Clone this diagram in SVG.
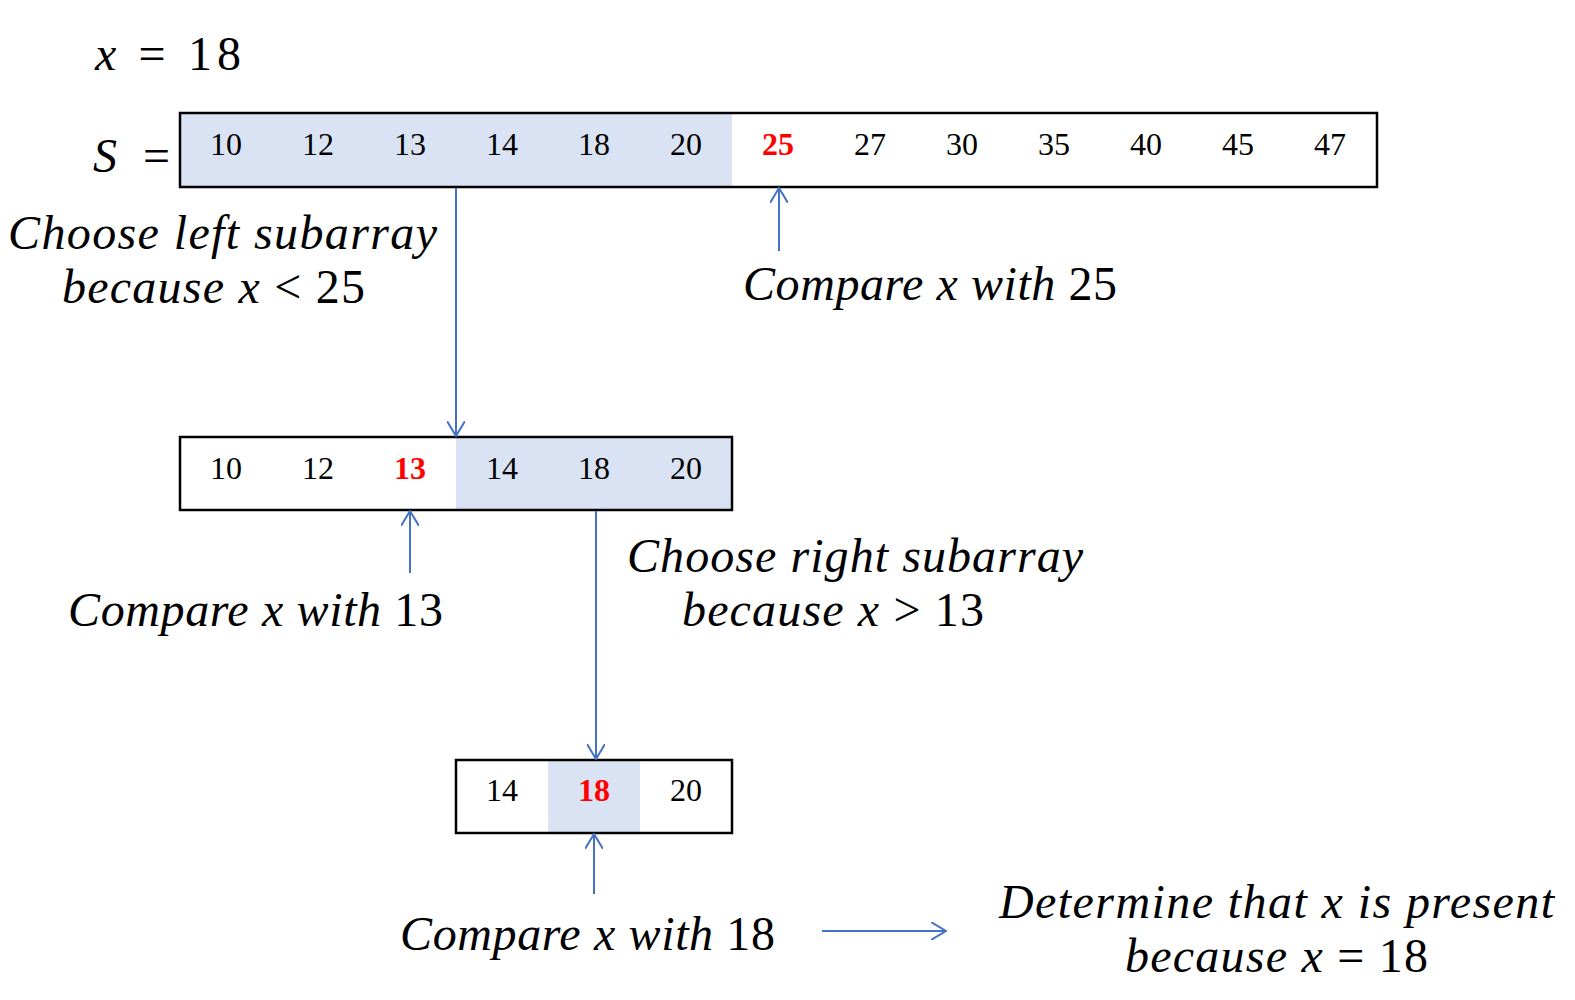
<svg xmlns="http://www.w3.org/2000/svg" width="1575" height="1000" viewBox="0 0 1575 1000">
<style>
.box{fill:none;stroke:#000;stroke-width:2.5}
.sh{fill:#DAE3F3}
.num{font-family:"Liberation Serif","Times New Roman",serif;font-size:32px;fill:#000;text-anchor:middle}
.red{fill:#FF0000;font-weight:bold}
.m{font-family:"Liberation Serif","Times New Roman",serif;font-size:48px;font-style:italic;fill:#000}
.u{font-style:normal}
.c{fill:none;stroke:#4472C4;stroke-width:2}
</style>
<defs>
<marker id="ah" viewBox="0 0 16 18" refX="15" refY="9" markerWidth="16" markerHeight="18" markerUnits="userSpaceOnUse" orient="auto">
<path d="M0,0 L15,9 L0,18" fill="none" stroke="#4472C4" stroke-width="2"/>
</marker>
</defs>
<rect width="1575" height="1000" fill="#fff"/>
<g id="label-x"><text class="m" x="95" y="70" textLength="146">x<tspan class="u"> = 18</tspan></text></g>
<g id="label-S"><text class="m" x="93" y="172" textLength="77">S<tspan class="u"> =</tspan></text></g>
<g id="array-top">
<rect class="sh" x="180" y="113" width="552" height="74"/>
<rect class="box" x="180" y="113" width="1197" height="74"/>
<text class="num" x="226" y="155">10</text>
<text class="num" x="318" y="155">12</text>
<text class="num" x="410" y="155">13</text>
<text class="num" x="502" y="155">14</text>
<text class="num" x="594" y="155">18</text>
<text class="num" x="686" y="155">20</text>
<text class="num red" x="778" y="155">25</text>
<text class="num" x="870" y="155">27</text>
<text class="num" x="962" y="155">30</text>
<text class="num" x="1054" y="155">35</text>
<text class="num" x="1146" y="155">40</text>
<text class="num" x="1238" y="155">45</text>
<text class="num" x="1330" y="155">47</text>
</g>
<g id="array-middle">
<rect class="sh" x="456" y="437" width="276" height="73"/>
<rect class="box" x="180" y="437" width="552" height="73"/>
<text class="num" x="226" y="479">10</text>
<text class="num" x="318" y="479">12</text>
<text class="num red" x="410" y="479">13</text>
<text class="num" x="502" y="479">14</text>
<text class="num" x="594" y="479">18</text>
<text class="num" x="686" y="479">20</text>
</g>
<g id="array-bottom">
<rect class="sh" x="548" y="760" width="92" height="73"/>
<rect class="box" x="456" y="760" width="276" height="73"/>
<text class="num" x="502" y="801">14</text>
<text class="num red" x="594" y="801">18</text>
<text class="num" x="686" y="801">20</text>
</g>
<g id="text-left">
<text class="m" x="8" y="249" textLength="429">Choose left subarray</text>
<text class="m" x="62" y="303" textLength="303">because x<tspan class="u"> &lt; 25</tspan></text>
</g>
<g id="text-compare25"><text class="m" x="743" y="300" textLength="374">Compare x with<tspan class="u"> 25</tspan></text></g>
<g id="text-compare13"><text class="m" x="68" y="626" textLength="375">Compare x with<tspan class="u"> 13</tspan></text></g>
<g id="text-right">
<text class="m" x="627" y="572" textLength="456">Choose right subarray</text>
<text class="m" x="682" y="626" textLength="302">because x<tspan class="u"> &gt; 13</tspan></text>
</g>
<g id="text-compare18"><text class="m" x="400" y="950" textLength="375">Compare x with<tspan class="u"> 18</tspan></text></g>
<g id="text-present">
<text class="m" x="999" y="918" textLength="555">Determine that x is present</text>
<text class="m" x="1125" y="972" textLength="303">because x<tspan class="u"> = 18</tspan></text>
</g>
<g id="connectors">
<line class="c" x1="779" y1="251" x2="779" y2="188" marker-end="url(#ah)"/>
<line class="c" x1="456" y1="188" x2="456" y2="436" marker-end="url(#ah)"/>
<line class="c" x1="410" y1="573" x2="410" y2="511" marker-end="url(#ah)"/>
<line class="c" x1="596" y1="511" x2="596" y2="759" marker-end="url(#ah)"/>
<line class="c" x1="594" y1="894" x2="594" y2="834" marker-end="url(#ah)"/>
<line class="c" x1="822" y1="931" x2="946" y2="931" marker-end="url(#ah)"/>
</g>
</svg>
